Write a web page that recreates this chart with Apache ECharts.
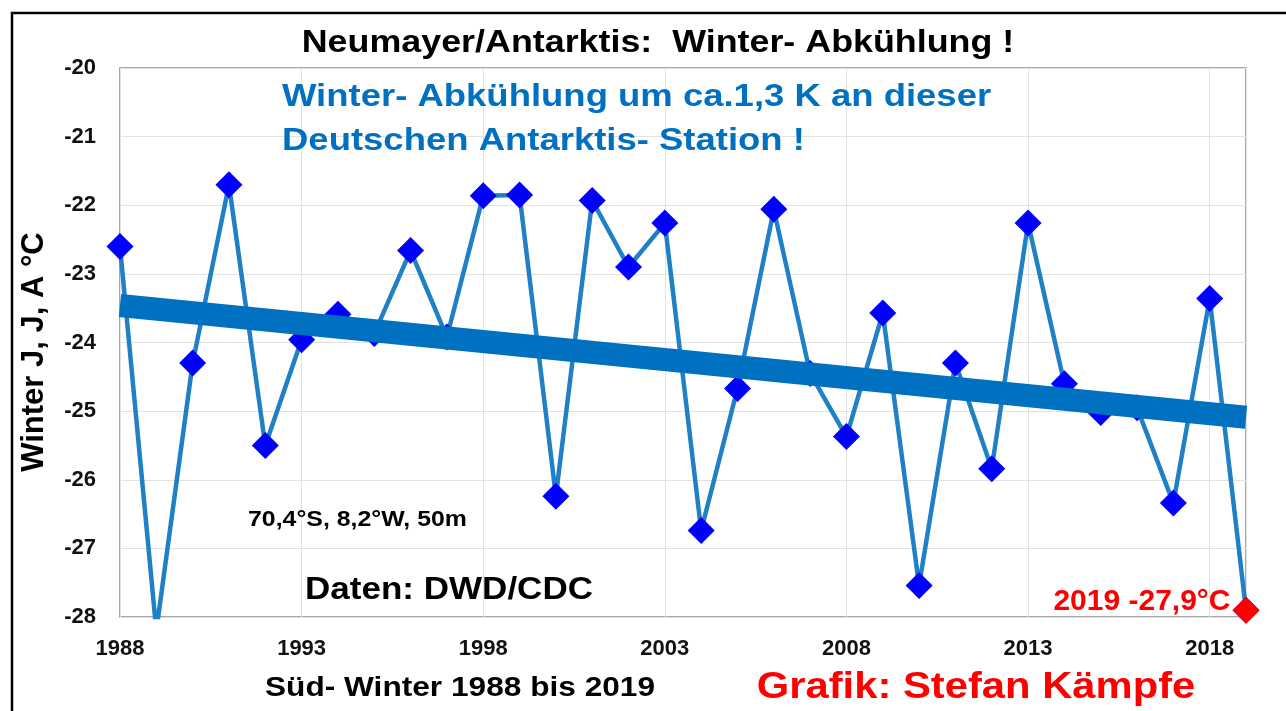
<!DOCTYPE html>
<html>
<head>
<meta charset="utf-8">
<title>Neumayer/Antarktis: Winter- Abkühlung</title>
<script src="https://cdn.jsdelivr.net/npm/echarts@6/dist/echarts.min.js"></script>
<style>
    html, body { margin: 0; padding: 0; background: #ffffff; }
    #draw_area { width: 1286px; height: 711px; }
</style>
</head>
<body>
<div id="draw_area"></div>
<script>
"use strict";

//Jahre (Süd-Winter) und Mitteltemperatur J, J, A in °C
var years = [1988, 1989, 1990, 1991, 1992, 1993, 1994, 1995, 1996, 1997,
             1998, 1999, 2000, 2001, 2002, 2003, 2004, 2005, 2006, 2007,
             2008, 2009, 2010, 2011, 2012, 2013, 2014, 2015, 2016, 2017,
             2018, 2019];
var temps = [-22.60, -28.20, -24.30, -21.70, -25.50, -23.96, -23.59, -23.87, -22.66, -23.92,
             -21.86, -21.85, -26.24, -21.93, -22.90, -22.26, -26.74, -24.67, -22.06, -24.45,
             -25.37, -23.57, -27.54, -24.30, -25.84, -22.26, -24.60, -25.02, -24.95, -26.34,
             -23.36, -27.90];

//lineare Trendlinie, Anfang und Ende
var trendYears = [1988, 2019];
var trendTemps = [-23.46, -25.09];

//letzter Wert, rot hervorgehoben
var lastYear = [2019];
var lastTemp = [-27.9];
var lastLabel = "2019 -27,9°C";

var yTicks = [-28, -27, -26, -25, -24, -23, -22, -21, -20];

var FONT = "'Liberation Sans', Arial, sans-serif";

function pairs(xs, ys) {
    var out = [];
    for (var i = 0; i < xs.length; i++) {
        out.push([xs[i], ys[i]]);
    }
    return out;
}

//Text-Element fuer graphic
function txt(text, x, y, size, color, align, sx) {
    return {
        type: 'text',
        x: x,
        y: y,
        scaleX: sx || 1,
        z: 100,
        style: {
            text: text,
            fill: color,
            font: 'bold ' + size + 'px ' + FONT,
            textAlign: align,
            textVerticalAlign: 'middle'
        }
    };
}

var option = {
    animation: false,
    backgroundColor: '#ffffff',
    grid: {
        left: 120,
        top: 68,
        right: 40,
        bottom: 94,
        show: true,
        borderColor: '#8a8a8a',
        borderWidth: 1.5,
        backgroundColor: '#ffffff'
    },
    xAxis: {
        type: 'value',
        min: 1988,
        max: 2019,
        interval: 5,
        axisLine: { show: false },
        axisTick: { show: false },
        splitLine: { show: true, lineStyle: { color: '#e2e2e2', width: 1 } },
        axisLabel: {
            showMaxLabel: false,
            margin: 21,
            color: '#111',
            fontFamily: FONT,
            fontWeight: 'bold',
            fontSize: 22,
            formatter: function (v) { return String(v); }
        }
    },
    yAxis: {
        type: 'value',
        min: yTicks[0],
        max: yTicks[yTicks.length - 1],
        interval: 1,
        axisLine: { show: false },
        axisTick: { show: false },
        splitLine: { show: true, lineStyle: { color: '#e2e2e2', width: 1 } },
        axisLabel: {
            margin: 24,
            color: '#111',
            fontFamily: FONT,
            fontWeight: 'bold',
            fontSize: 22
        }
    },
    series: [
        {
            //Messwerte
            type: 'line',
            data: pairs(years, temps),
            z: 2,
            symbol: 'diamond',
            symbolSize: 27,
            itemStyle: { color: '#0000ff' },
            lineStyle: { color: '#1f80c6', width: 4.5 }
        },
        {
            //Trend
            type: 'line',
            data: pairs(trendYears, trendTemps),
            z: 5,
            symbol: 'none',
            lineStyle: { color: '#0070c0', width: 23, cap: 'butt' }
        },
        {
            //Wert 2019
            type: 'scatter',
            data: pairs(lastYear, lastTemp),
            z: 6,
            symbol: 'diamond',
            symbolSize: 27,
            itemStyle: { color: '#ff0000', opacity: 1 },
            label: {
                show: true,
                position: 'left',
                distance: 2,
                offset: [0, -8],
                formatter: lastLabel,
                color: '#ff0000',
                fontFamily: FONT,
                fontWeight: 'bold',
                fontSize: 30
            }
        }
    ],
    graphic: [
        //Rahmen um das ganze Bild
        {
            type: 'rect',
            shape: { x: 12, y: 13, width: 1300, height: 720 },
            style: { fill: 'none', stroke: '#000', lineWidth: 2.5 },
            z: 100
        },
        txt('Neumayer/Antarktis:  Winter- Abkühlung !', 658, 43, 32, '#000', 'center', 1.12),
        txt('Winter- Abkühlung um ca.1,3 K an dieser', 282, 97, 32, '#0070c0', 'left', 1.14),
        txt('Deutschen Antarktis- Station !', 282, 141, 32, '#0070c0', 'left', 1.14),
        txt('70,4°S, 8,2°W, 50m', 248, 520, 22, '#000', 'left', 1.13),
        txt('Daten: DWD/CDC', 305, 590, 31, '#000', 'left', 1.13),
        txt('Süd- Winter 1988 bis 2019', 460, 688, 28, '#000', 'center', 1.13),
        txt('Grafik: Stefan Kämpfe', 976, 688, 36, '#ff0000', 'center', 1.16),
        {
            type: 'text',
            x: 34,
            y: 352,
            rotation: Math.PI / 2,
            z: 100,
            style: {
                text: 'Winter J, J, A °C',
                fill: '#000',
                font: 'bold 31px ' + FONT,
                textAlign: 'center',
                textVerticalAlign: 'middle'
            }
        }
    ]
};

var chart_object = echarts.init(document.getElementById('draw_area'));
chart_object.setOption(option);
</script>
</body>
</html>
